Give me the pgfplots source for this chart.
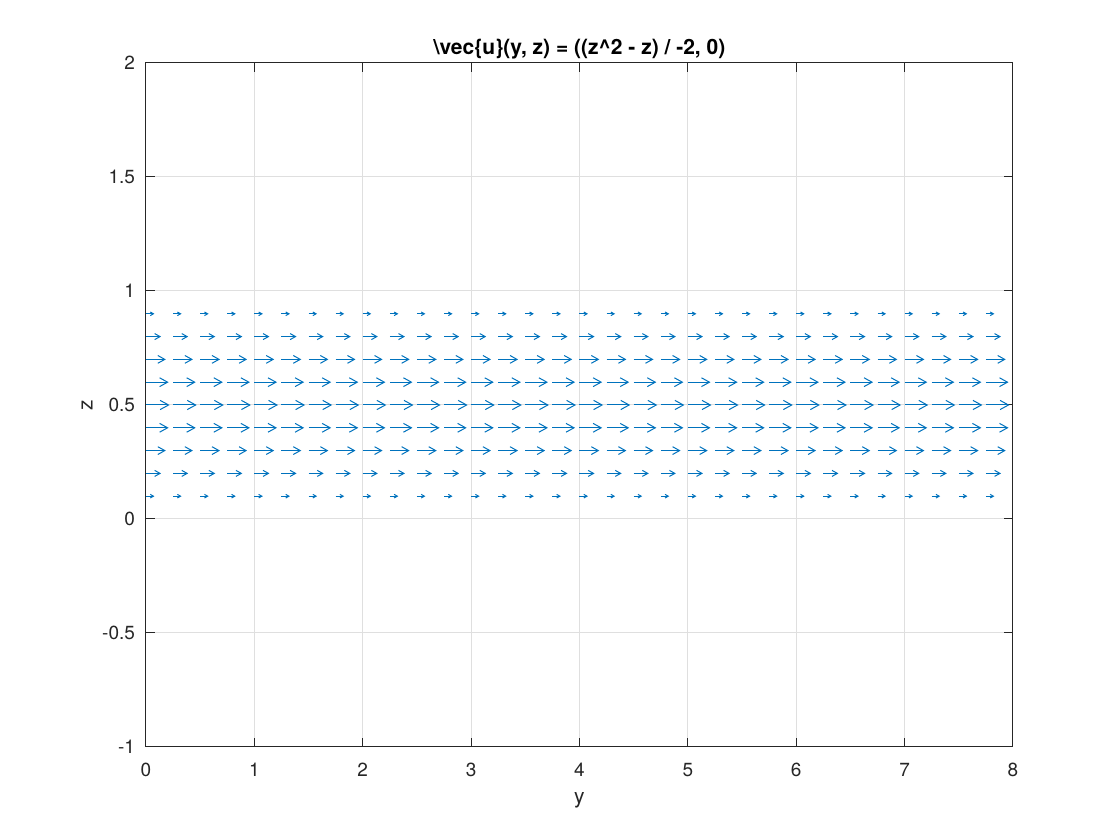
\documentclass[border=0pt]{standalone}
\usepackage{pgfplots}
\pgfplotsset{compat=1.18}
\usetikzlibrary{arrows.meta}
\usepackage{fontspec}
\setmainfont{TeX Gyre Heros}
\definecolor{mblue}{RGB}{0,114,189}
\definecolor{axgray}{RGB}{38,38,38}
\definecolor{gridgray}{RGB}{223,223,223}
\begin{document}
\begin{tikzpicture}
\path[use as bounding box] (-73pt,-46.5pt) rectangle (487pt,373.5pt);
\begin{axis}[
  scale only axis,
  width=433.5pt, height=342pt,
  xmin=0, xmax=8, ymin=-1, ymax=2,
  xtick={0,1,2,3,4,5,6,7,8},
  ytick={-1,-0.5,0,0.5,1,1.5,2},
  yticklabels={-1,-0.5,0,0.5,1,1.5,2},
  xticklabels={0,1,2,3,4,5,6,7,8},
  tick align=inside, xtick pos=both, ytick pos=both,
  major tick length=4.3pt,
  every tick/.style={axgray, line width=0.5pt},
  axis line style={axgray, line width=0.5pt},
  grid=major,
  major grid style={gridgray, line width=0.5pt},
  ticklabel style={font=\fontsize{9.5}{11}\selectfont, text=axgray},
  xticklabel style={yshift=-4.5pt},
  yticklabel style={xshift=-2pt},
  xlabel={y}, ylabel={z},
  label style={font=\fontsize{10.5}{12}\selectfont, text=axgray},
  xlabel style={at={(axis description cs:0.5,-0.0775)}, anchor=center},
  ylabel style={at={(axis description cs:-0.068,0.5)}, anchor=center, rotate=0},
  every axis title shift=0pt,
  title={\textbackslash vec\{u\}(y, z) = ((z\textasciicircum 2 - z) / -2, 0)},
  title style={at={(axis description cs:0.5,1.0205)}, anchor=center, font=\fontsize{10.5}{12}\selectfont\bfseries},
  clip=false,
]
% z = 0.1
\addplot[mblue, line width=0.5pt, quiver={u=0.0784,v=0}, -{Straight Barb[length=1.6pt,width=1.8pt]}] coordinates {(0,0.1) (0.25,0.1) (0.5,0.1) (0.75,0.1) (1,0.1) (1.25,0.1) (1.5,0.1) (1.75,0.1) (2,0.1) (2.25,0.1) (2.5,0.1) (2.75,0.1) (3,0.1) (3.25,0.1) (3.5,0.1) (3.75,0.1) (4,0.1) (4.25,0.1) (4.5,0.1) (4.75,0.1) (5,0.1) (5.25,0.1) (5.5,0.1) (5.75,0.1) (6,0.1) (6.25,0.1) (6.5,0.1) (6.75,0.1) (7,0.1) (7.25,0.1) (7.5,0.1) (7.75,0.1)};
% z = 0.2
\addplot[mblue, line width=0.5pt, quiver={u=0.1394,v=0}, -{Straight Barb[length=2.7pt,width=3pt]}] coordinates {(0,0.2) (0.25,0.2) (0.5,0.2) (0.75,0.2) (1,0.2) (1.25,0.2) (1.5,0.2) (1.75,0.2) (2,0.2) (2.25,0.2) (2.5,0.2) (2.75,0.2) (3,0.2) (3.25,0.2) (3.5,0.2) (3.75,0.2) (4,0.2) (4.25,0.2) (4.5,0.2) (4.75,0.2) (5,0.2) (5.25,0.2) (5.5,0.2) (5.75,0.2) (6,0.2) (6.25,0.2) (6.5,0.2) (6.75,0.2) (7,0.2) (7.25,0.2) (7.5,0.2) (7.75,0.2)};
% z = 0.3
\addplot[mblue, line width=0.5pt, quiver={u=0.1829,v=0}, -{Straight Barb[length=3.5pt,width=3.9pt]}] coordinates {(0,0.3) (0.25,0.3) (0.5,0.3) (0.75,0.3) (1,0.3) (1.25,0.3) (1.5,0.3) (1.75,0.3) (2,0.3) (2.25,0.3) (2.5,0.3) (2.75,0.3) (3,0.3) (3.25,0.3) (3.5,0.3) (3.75,0.3) (4,0.3) (4.25,0.3) (4.5,0.3) (4.75,0.3) (5,0.3) (5.25,0.3) (5.5,0.3) (5.75,0.3) (6,0.3) (6.25,0.3) (6.5,0.3) (6.75,0.3) (7,0.3) (7.25,0.3) (7.5,0.3) (7.75,0.3)};
% z = 0.4
\addplot[mblue, line width=0.5pt, quiver={u=0.209,v=0}, -{Straight Barb[length=4pt,width=4.4pt]}] coordinates {(0,0.4) (0.25,0.4) (0.5,0.4) (0.75,0.4) (1,0.4) (1.25,0.4) (1.5,0.4) (1.75,0.4) (2,0.4) (2.25,0.4) (2.5,0.4) (2.75,0.4) (3,0.4) (3.25,0.4) (3.5,0.4) (3.75,0.4) (4,0.4) (4.25,0.4) (4.5,0.4) (4.75,0.4) (5,0.4) (5.25,0.4) (5.5,0.4) (5.75,0.4) (6,0.4) (6.25,0.4) (6.5,0.4) (6.75,0.4) (7,0.4) (7.25,0.4) (7.5,0.4) (7.75,0.4)};
% z = 0.5
\addplot[mblue, line width=0.5pt, quiver={u=0.2178,v=0}, -{Straight Barb[length=4.2pt,width=4.6pt]}] coordinates {(0,0.5) (0.25,0.5) (0.5,0.5) (0.75,0.5) (1,0.5) (1.25,0.5) (1.5,0.5) (1.75,0.5) (2,0.5) (2.25,0.5) (2.5,0.5) (2.75,0.5) (3,0.5) (3.25,0.5) (3.5,0.5) (3.75,0.5) (4,0.5) (4.25,0.5) (4.5,0.5) (4.75,0.5) (5,0.5) (5.25,0.5) (5.5,0.5) (5.75,0.5) (6,0.5) (6.25,0.5) (6.5,0.5) (6.75,0.5) (7,0.5) (7.25,0.5) (7.5,0.5) (7.75,0.5)};
% z = 0.6
\addplot[mblue, line width=0.5pt, quiver={u=0.209,v=0}, -{Straight Barb[length=4pt,width=4.4pt]}] coordinates {(0,0.6) (0.25,0.6) (0.5,0.6) (0.75,0.6) (1,0.6) (1.25,0.6) (1.5,0.6) (1.75,0.6) (2,0.6) (2.25,0.6) (2.5,0.6) (2.75,0.6) (3,0.6) (3.25,0.6) (3.5,0.6) (3.75,0.6) (4,0.6) (4.25,0.6) (4.5,0.6) (4.75,0.6) (5,0.6) (5.25,0.6) (5.5,0.6) (5.75,0.6) (6,0.6) (6.25,0.6) (6.5,0.6) (6.75,0.6) (7,0.6) (7.25,0.6) (7.5,0.6) (7.75,0.6)};
% z = 0.7
\addplot[mblue, line width=0.5pt, quiver={u=0.1829,v=0}, -{Straight Barb[length=3.5pt,width=3.9pt]}] coordinates {(0,0.7) (0.25,0.7) (0.5,0.7) (0.75,0.7) (1,0.7) (1.25,0.7) (1.5,0.7) (1.75,0.7) (2,0.7) (2.25,0.7) (2.5,0.7) (2.75,0.7) (3,0.7) (3.25,0.7) (3.5,0.7) (3.75,0.7) (4,0.7) (4.25,0.7) (4.5,0.7) (4.75,0.7) (5,0.7) (5.25,0.7) (5.5,0.7) (5.75,0.7) (6,0.7) (6.25,0.7) (6.5,0.7) (6.75,0.7) (7,0.7) (7.25,0.7) (7.5,0.7) (7.75,0.7)};
% z = 0.8
\addplot[mblue, line width=0.5pt, quiver={u=0.1394,v=0}, -{Straight Barb[length=2.7pt,width=3pt]}] coordinates {(0,0.8) (0.25,0.8) (0.5,0.8) (0.75,0.8) (1,0.8) (1.25,0.8) (1.5,0.8) (1.75,0.8) (2,0.8) (2.25,0.8) (2.5,0.8) (2.75,0.8) (3,0.8) (3.25,0.8) (3.5,0.8) (3.75,0.8) (4,0.8) (4.25,0.8) (4.5,0.8) (4.75,0.8) (5,0.8) (5.25,0.8) (5.5,0.8) (5.75,0.8) (6,0.8) (6.25,0.8) (6.5,0.8) (6.75,0.8) (7,0.8) (7.25,0.8) (7.5,0.8) (7.75,0.8)};
% z = 0.9
\addplot[mblue, line width=0.5pt, quiver={u=0.0784,v=0}, -{Straight Barb[length=1.6pt,width=1.8pt]}] coordinates {(0,0.9) (0.25,0.9) (0.5,0.9) (0.75,0.9) (1,0.9) (1.25,0.9) (1.5,0.9) (1.75,0.9) (2,0.9) (2.25,0.9) (2.5,0.9) (2.75,0.9) (3,0.9) (3.25,0.9) (3.5,0.9) (3.75,0.9) (4,0.9) (4.25,0.9) (4.5,0.9) (4.75,0.9) (5,0.9) (5.25,0.9) (5.5,0.9) (5.75,0.9) (6,0.9) (6.25,0.9) (6.5,0.9) (6.75,0.9) (7,0.9) (7.25,0.9) (7.5,0.9) (7.75,0.9)};
\end{axis}
\end{tikzpicture}
\end{document}
